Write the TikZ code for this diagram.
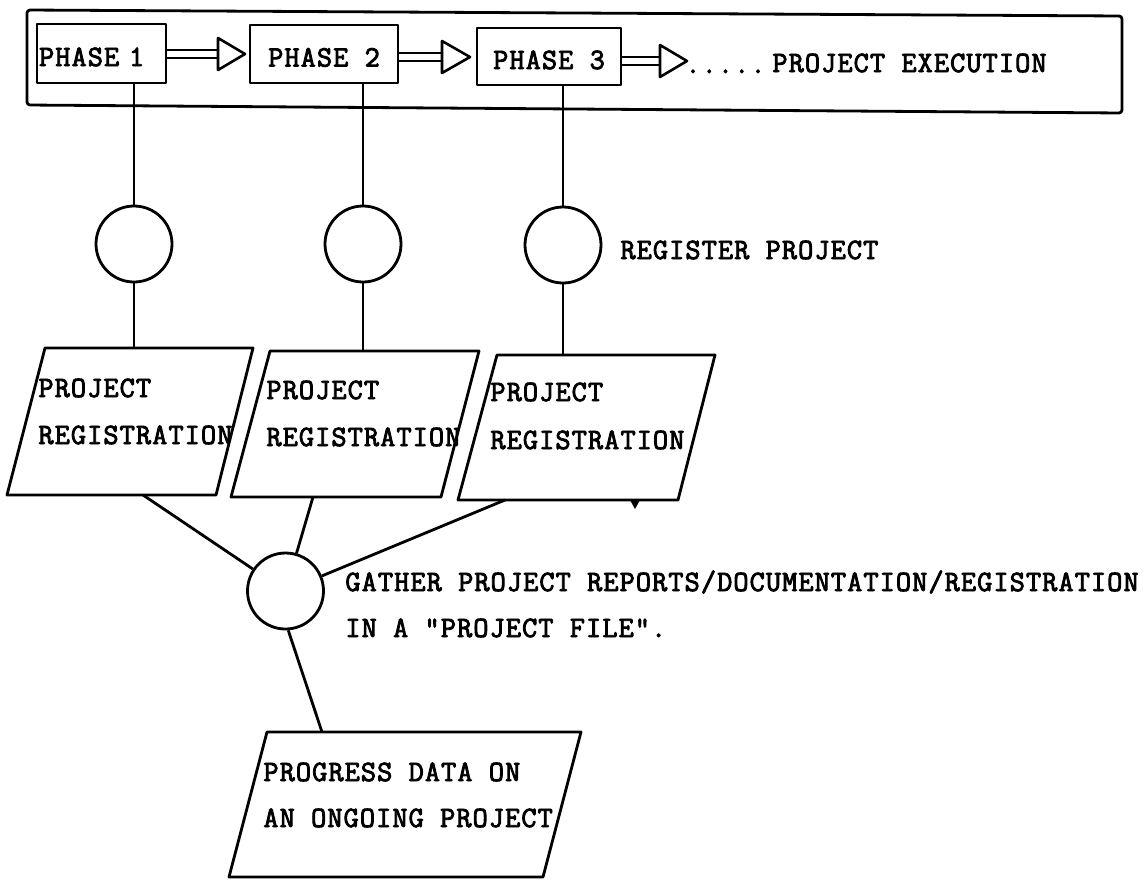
\documentclass[tikz,border=0pt]{standalone}
\usepackage{fontspec}
\newfontfamily\mono{Latin Modern Mono}[LetterSpace=3.6, FakeBold=3]
\begin{document}
\begin{tikzpicture}[x=1pt, y=-1pt, line width=2.8pt, line join=round,
  lbl/.style={font=\mono\fontsize{29.5}{46}\selectfont, inner sep=0pt,
    text height=18pt, text depth=0pt, anchor=west},
  phasebox/.style={draw, font=\mono\fontsize{29.5}{46}\selectfont,
    inner ysep=0pt, text height=25pt, text depth=0pt},
  hub/.style={draw, circle, minimum size=76pt, inner sep=0pt},
  regbox/.style={draw},
  shaft/.style={line width=2.4pt, double, double distance=6pt},
  openhead/.style={draw, fill=white, line width=2.6pt}]
\useasboundingbox (0,0) rectangle (1146,879);

% frame round the execution phases
\draw[rounded corners=3pt] (27,10) -- (1122,16) -- (1122,113) -- (27,105) -- cycle;

% phases
\node[phasebox, minimum height=59pt, text width=125pt, align=left, inner xsep=2pt]
  (p1) at (101.5,53.5) {PHASE 1};
\node[phasebox, minimum width=148pt, minimum height=58pt, inner xsep=0pt]
  (p2) at (324,54) {PHASE 2};
\node[phasebox, minimum width=144pt, minimum height=57pt, inner xsep=0pt]
  (p3) at (549,56.5) {PHASE 3};

% hollow double arrows between phases
\draw[shaft] (p1.east |- 0,54) -- (218,54);
\draw[openhead] (218,38) -- (245,54) -- (218,70) -- cycle;
\draw[shaft] (p2.east |- 0,57) -- (442,57);
\draw[openhead] (442,41) -- (470,57) -- (442,73) -- cycle;
\draw[shaft] (p3.east |- 0,61) -- (660,61);
\draw[openhead] (660,45) -- (687,61) -- (660,77) -- cycle;

\node[lbl, anchor=east] (dots) at (767,64) {.....};
\node[lbl] (exec) at (771,63) {PROJECT EXECUTION};

% registration steps
\node[hub] (c1) at (134,244) {};
\node[hub] (c2) at (363,244) {};
\node[hub] (c3) at (563,245) {};
\node[lbl] (regtxt) at (619,250) {REGISTER PROJECT};

\draw (c1.north) -- (c1.north |- p1.south);
\draw (c2.north) -- (c2.north |- p2.south);
\draw (c3.north) -- (c3.north |- p3.south);

% registration documents
\draw[regbox] (45,348) -- (253,348) -- (216,495) -- (7,495) -- cycle;
\draw[regbox] (270,351) -- (479,351) -- (441,497) -- (231,497) -- cycle;
\draw[regbox] (497,355) -- (715,355) -- (678,500) -- (458,500) -- cycle;
\fill (630,500) -- (640,500) -- (635,509) -- cycle;
\coordinate (r1t) at (134,348);
\coordinate (r2t) at (363,351);
\coordinate (r3t) at (563,355);
\coordinate (r1b) at (143,495);
\coordinate (r2b) at (313,497);
\coordinate (r3b) at (505,500);

\node[lbl] (r1a) at (37,388) {PROJECT};
\node[lbl] (r1c) at (37,435) {REGISTRATION};
\node[lbl] (r2a) at (265,390) {PROJECT};
\node[lbl] (r2c) at (265,437) {REGISTRATION};
\node[lbl] (r3a) at (489,392) {PROJECT};
\node[lbl] (r3c) at (489,440) {REGISTRATION};

\draw (c1.south) -- (c1.south |- r1t);
\draw (c2.south) -- (c2.south |- r2t);
\draw (c3.south) -- (c3.south |- r3t);

% gathering into the project file
\node[hub] (c4) at (285.5,591) {};
\draw (r1b) -- (c4);
\draw (r2b) -- (c4);
\draw (r3b) -- (c4);
\node[lbl] (g1) at (344,582) {GATHER PROJECT REPORTS/DOCUMENTATION/REGISTRATION};
\node[lbl] (g2) at (344,628) {IN A "PROJECT FILE".};

% progress data
\draw[regbox] (267,732) -- (581,732) -- (543,877) -- (229,877) -- cycle;
\coordinate (r4t) at (322,732);
\draw (c4.-86) -- (r4t);
\node[lbl] (pd1) at (262,772) {PROGRESS DATA ON};
\node[lbl] (pd2) at (262,818) {AN ONGOING PROJECT};
\end{tikzpicture}
\end{document}
